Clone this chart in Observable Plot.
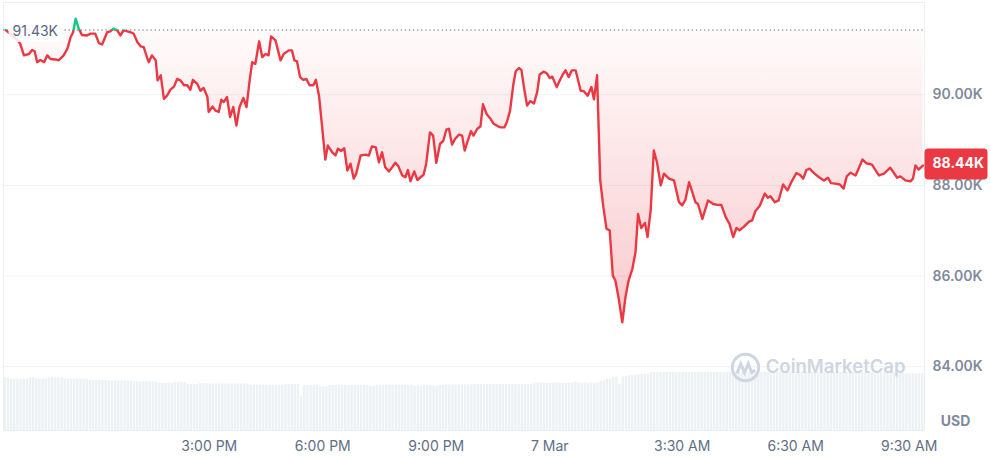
<!DOCTYPE html>
<html><head><meta charset="utf-8">
<script src="https://cdn.jsdelivr.net/npm/d3@7"></script>
<script src="https://cdn.jsdelivr.net/npm/@observablehq/plot@0.6"></script>
<style>
html,body{margin:0;padding:0;background:#fff;}
#chart{position:relative;width:991px;height:457px;font-family:Inter,"Noto Sans",sans-serif;}
#chart svg{position:absolute;left:0;top:0;}
</style></head><body><div id="chart"></div>
<script>
// ---- data ----
const openPrice = 91430;
const priceTimes = [
"6T09:37","6T09:43","6T09:49","6T09:56","6T10:00","6T10:06","6T10:14","6T10:19","6T10:23","6T10:27",
"6T10:32","6T10:38","6T10:43","6T10:48","6T10:56","6T11:01","6T11:09","6T11:15","6T11:20","6T11:24",
"6T11:28","6T11:33","6T11:38","6T11:46","6T11:52","6T11:59","6T12:05","6T12:10","6T12:18","6T12:23",
"6T12:28","6T12:34","6T12:39","6T12:44","6T12:50","6T12:55","6T13:00","6T13:06","6T13:11","6T13:16",
"6T13:22","6T13:24","6T13:29","6T13:35","6T13:38","6T13:43","6T13:48","6T13:53","6T13:58","6T14:04",
"6T14:09","6T14:14","6T14:20","6T14:25","6T14:30","6T14:34","6T14:41","6T14:46","6T14:51","6T14:57",
"6T14:59","6T15:05","6T15:10","6T15:15","6T15:19","6T15:23","6T15:28","6T15:33","6T15:38","6T15:43",
"6T15:48","6T15:54","6T15:59","6T16:04","6T16:08","6T16:13","6T16:19","6T16:24","6T16:29","6T16:34",
"6T16:38","6T16:45","6T16:53","6T16:58","6T17:06","6T17:11","6T17:15","6T17:19","6T17:24","6T17:29",
"6T17:34","6T17:39","6T17:45","6T17:49","6T17:54","6T17:59","6T18:04","6T18:08","6T18:15","6T18:20",
"6T18:24","6T18:29","6T18:34","6T18:39","6T18:44","6T18:49","6T18:53","6T19:00","6T19:08","6T19:13",
"6T19:18","6T19:24","6T19:29","6T19:34","6T19:39","6T19:45","6T19:50","6T19:55","6T20:00","6T20:06",
"6T20:11","6T20:15","6T20:19","6T20:25","6T20:30","6T20:35","6T20:40","6T20:44","6T20:50","6T20:55",
"6T21:00","6T21:06","6T21:11","6T21:16","6T21:20","6T21:25","6T21:30","6T21:36","6T21:41","6T21:45",
"6T21:50","6T21:55","6T21:59","6T22:05","6T22:10","6T22:14","6T22:20","6T22:26","6T22:31","6T22:37",
"6T22:42","6T22:48","6T22:52","6T22:57","6T23:02","6T23:06","6T23:11","6T23:15","6T23:19","6T23:24",
"6T23:29","6T23:35","6T23:40","6T23:44","6T23:50","6T23:55","7T00:00","7T00:04","7T00:11","7T00:16",
"7T00:21","7T00:25","7T00:30","7T00:35","7T00:41","7T00:49","7T00:54","7T01:00","7T01:06","7T01:10",
"7T01:15","7T01:20","7T01:25","7T01:30","7T01:35","7T01:40","7T01:44","7T01:49","7T01:55","7T02:00",
"7T02:05","7T02:11","7T02:16","7T02:20","7T02:25","7T02:31","7T02:35","7T02:40","7T02:45","7T02:50",
"7T02:56","7T03:01","7T03:09","7T03:17","7T03:25","7T03:30","7T03:35","7T03:41","7T03:46","7T03:51",
"7T03:55","7T04:02","7T04:11","7T04:19","7T04:26","7T04:32","7T04:39","7T04:45","7T04:51","7T04:56",
"7T05:01","7T05:08","7T05:16","7T05:21","7T05:26","7T05:33","7T05:41","7T05:46","7T05:50","7T05:57",
"7T06:03","7T06:10","7T06:17","7T06:23","7T06:31","7T06:37","7T06:42","7T06:47","7T06:52","7T06:59",
"7T07:07","7T07:15","7T07:21","7T07:26","7T07:33","7T07:40","7T07:46","7T07:51","7T07:57","7T08:05",
"7T08:16","7T08:22","7T08:31","7T08:42","7T08:50","7T09:00","7T09:11","7T09:16","7T09:24","7T09:32",
"7T09:36","7T09:40","7T09:45","7T09:52"];
const priceValues = [
91430,91360,91290,91200,91130,90870,90900,90990,90960,90720,
90770,90720,90870,90790,90780,90760,90870,91020,91270,91380,
91680,91460,91320,91310,91350,91350,91140,91110,91380,91400,
91460,91420,91310,91420,91400,91380,91350,91160,91070,91050,
90790,90720,90870,90760,90320,90430,89910,89980,90110,90180,
90350,90320,90210,90210,90110,90330,90240,90090,90150,89950,
89620,89740,89650,89620,89890,89840,89950,89510,89730,89320,
89730,89930,89730,90320,90720,90680,91180,90830,90900,90870,
91290,91200,90760,90900,90980,90980,90760,90740,90390,90330,
90350,90210,90210,90330,89980,89280,88570,88880,88730,88660,
88810,88760,88820,88330,88480,88150,88260,88660,88680,88660,
88860,88840,88510,88730,88400,88310,88400,88500,88420,88220,
88180,88340,88090,88310,88120,88180,88240,88480,89170,89100,
88500,88920,88980,89230,89250,88900,89030,89120,89100,88770,
88990,89200,89100,89250,89300,89790,89570,89470,89360,89310,
89280,89280,89400,89650,90210,90520,90590,90550,90170,89760,
89860,89810,90060,90450,90510,90480,90370,90400,90170,90320,
90460,90540,90390,90540,90540,90090,90080,89980,90170,89900,
90430,88110,87520,87040,87010,86010,85900,85530,84980,85530,
85900,86160,86530,87370,87060,87170,86860,87450,88770,88510,
88000,88260,88150,88110,87630,87560,87680,88070,87850,87630,
87590,87260,87670,87590,87570,87570,87300,87150,86860,87060,
87010,87090,87200,87230,87430,87550,87820,87730,87760,87630,
87670,88020,87890,88070,88270,88230,88150,88340,88370,88270,
88180,88110,88170,88050,88040,88020,87930,88200,88280,88220,
88570,88490,88460,88220,88260,88390,88170,88200,88110,88090,
88150,88440,88350,88440];
// rolling 24h volume bars (5-minute bars), billions USD
const volumeStart = "6T09:34";
const volumeStepMinutes = 5;
const volumeValues = [
52.7,52.5,51.3,51.5,51.3,51.2,51.3,51.4,52.6,52.7,
51.6,51.4,51.5,51.6,52.7,52.8,52.7,52.7,52.6,51.4,
51.3,51.3,51.2,51.3,51.3,51.4,51.2,50.1,50.0,49.9,
50.0,50.0,49.9,49.6,49.4,49.8,49.5,49.3,49.6,49.5,
49.4,48.8,48.7,48.6,48.7,48.8,48.6,48.7,48.5,47.4,
47.3,47.2,47.3,47.5,48.1,47.9,48.0,47.8,46.1,46.0,
45.9,46.0,47.0,47.1,46.8,46.5,46.4,46.6,46.5,46.5,
46.3,46.6,46.5,46.4,46.5,46.7,46.5,46.4,45.3,45.2,
45.4,45.3,45.3,45.1,45.3,45.4,45.3,45.2,45.3,46.0,
46.1,46.0,45.9,46.0,34.0,45.0,44.9,45.1,45.0,45.0,
43.7,43.6,43.8,45.0,45.1,44.9,45.0,45.0,45.2,45.0,
44.9,45.0,45.1,45.0,45.0,44.9,44.0,44.1,45.3,45.2,
45.4,45.3,45.3,45.2,45.3,45.4,45.3,45.2,45.3,45.3,
44.0,44.1,43.9,45.0,44.8,45.1,44.3,44.2,45.0,44.9,
45.7,45.6,45.8,45.7,45.7,45.6,45.8,45.7,45.9,46.0,
46.0,46.1,45.9,46.0,46.0,46.1,46.0,45.9,46.0,46.0,
46.1,46.0,46.0,45.9,46.0,46.1,46.0,46.0,47.3,47.2,
47.4,47.3,47.3,47.2,47.3,47.4,47.3,47.3,47.2,47.3,
47.4,48.6,47.3,47.2,47.3,47.3,47.4,47.3,47.5,49.3,
49.5,51.2,51.5,53.2,53.5,46.3,53.6,53.8,54.6,54.8,
55.0,55.8,56.0,56.2,56.5,
57.8,58.0,58.1,58.0,57.9,58.2,58.4,58.3,58.0,57.9,58.0,58.2,58.5,58.3,58.1,58.0,57.9,58.0,58.1,58.2,
58.3,58.2,58.0,58.1,58.3,58.4,58.2,58.0,57.9,58.1,58.2,58.3,58.2,58.0,58.1,58.2,58.3,58.1,58.0,57.9,
58.0,58.1,58.2,58.3,58.2,58.1,58.0,58.2,58.3,58.2,58.1,58.0,57.9,58.0,58.1,58.2,58.1,58.0,57.9,58.0,
58.1,58.2,58.1,58.0,57.9,58.0,58.1,57.9,57.8,57.9,58.0,57.9,57.8,57.7,57.8,57.6,57.5,57.4,57.3,57.2,
56.9,56.8,56.7,56.7,56.6,56.7,56.8];
const yTicks = [84000, 86000, 88000, 90000];
const xTickTimes = ["6T15:00","6T18:00","6T21:00","7T00:00","7T03:30","7T06:30","7T09:30"];
const xTickLabels = ["3:00 PM","6:00 PM","9:00 PM","7 Mar","3:30 AM","6:30 AM","9:30 AM"];
const xDomainText = ["6T09:33:36","7T09:54:18"];
const yDomain = [82591, 92037];
const currency = "USD";
const brand = "CoinMarketCap";

// ---- build ----
const parse = s => new Date("2025-03-0" + s);
const prices = priceTimes.map((t, i) => ({date: parse(t), price: priceValues[i]}));
const v0 = parse(volumeStart);
const volumes = volumeValues.map((v, i) => ({
  start: new Date(+v0 + i * volumeStepMinutes * 60000),
  end: new Date(+v0 + (i + 1) * volumeStepMinutes * 60000),
  vol: v
}));
const last = prices[prices.length - 1];
const fmtK = d => (d / 1000).toFixed(2) + "K";
const W = 991, H = 457, M = {marginLeft: 3, marginRight: 67, marginTop: 2, marginBottom: 27};
const xDomain = xDomainText.map(parse);
const RED = "#ea3943", GREEN = "#16c784", GREY = "#808a9d";

const roundedRect = (w, h, r) => ({
  draw(ctx) {
    const x0 = -w / 2, y0 = -h / 2, x1 = w / 2, y1 = h / 2;
    ctx.moveTo(x0 + r, y0);
    ctx.lineTo(x1 - r, y0); ctx.arcTo(x1, y0, x1, y0 + r, r);
    ctx.lineTo(x1, y1 - r); ctx.arcTo(x1, y1, x1 - r, y1, r);
    ctx.lineTo(x0 + r, y1); ctx.arcTo(x0, y1, x0, y1 - r, r);
    ctx.lineTo(x0, y0 + r); ctx.arcTo(x0, y0, x0 + r, y0, r);
    ctx.closePath();
  }
});
const cmcLogo = {
  draw(ctx) {
    const r = 13.2;
    ctx.moveTo(r, 0); ctx.arc(0, 0, r, 0, 2 * Math.PI);
    ctx.moveTo(-8.5, 6); ctx.lineTo(-4.8, -3.8); ctx.lineTo(-1, 5.2);
    ctx.lineTo(2.8, -3.8); ctx.lineTo(6.2, 5); ctx.lineTo(9.5, 2.5);
  }
};

const volPlot = Plot.plot({
  width: W, height: H, ...M,
  style: {background: "transparent"},
  x: {type: "time", domain: xDomain, axis: null},
  y: {domain: [0, 428], axis: null},
  marks: [
    Plot.frame({stroke: "#eceff2"}),
    Plot.rectY(volumes, {x1: "start", x2: "end", y: "vol", fill: "#eef1f4", insetLeft: 0.3, insetRight: 0.4})
  ]
});

const pricePlot = Plot.plot({
  width: W, height: H, ...M,
  style: {background: "transparent", fontFamily: "Inter, 'Noto Sans', sans-serif"},
  x: {type: "time", domain: xDomain, axis: null},
  y: {domain: yDomain, axis: null},
  marks: [
    Plot.ruleY(yTicks, {stroke: "#eff2f5", strokeWidth: 1}),
    Plot.areaY(prices, {x: "date", y1: () => openPrice, y2: d => Math.min(d.price, openPrice), fill: "url(#cmcRedFill)"}),
    Plot.areaY(prices, {x: "date", y1: () => openPrice, y2: d => Math.max(d.price, openPrice), fill: GREEN, fillOpacity: 0.12}),
    Plot.ruleY([openPrice], {stroke: "#8c9aa8", strokeWidth: 1.3, strokeDasharray: "1.2 2.9"}),
    Plot.line(prices, {x: "date", y: "price", stroke: "url(#cmcLineStroke)", strokeWidth: 2.4, strokeLinejoin: "round", strokeLinecap: "round"}),
    // opening price label
    Plot.dot([openPrice], {y: d => d, frameAnchor: "left", dx: 32, dy: 2, symbol: roundedRect(54, 20, 3), fill: "white", fillOpacity: 0.85, stroke: "none"}),
    Plot.text([openPrice], {y: d => d, frameAnchor: "left", dx: 9, dy: 2, textAnchor: "start", text: d => fmtK(d), fontSize: 14, fill: "#58667e"}),
    // right axis labels
    Plot.text(yTicks, {y: d => d, frameAnchor: "right", dx: 8, textAnchor: "start", text: d => fmtK(d), fontSize: 14, fontWeight: 600, fill: GREY}),
    // current price badge
    Plot.dot([last], {y: "price", frameAnchor: "right", dx: 31.5, dy: -1.5, symbol: roundedRect(63, 31, 4), fill: RED, stroke: "none"}),
    Plot.text([last], {y: "price", frameAnchor: "right", dx: 8, dy: -1.5, textAnchor: "start", text: d => fmtK(d.price), fontSize: 14, fontWeight: 700, fill: "white"}),
    // x axis labels
    Plot.text(xTickTimes.map(parse), {x: d => d, frameAnchor: "bottom", dy: 20, text: (d, i) => xTickLabels[i], fontSize: 14, fill: "#616e85"}),
    // currency
    Plot.text([currency], {frameAnchor: "bottom-right", dx: 31, dy: -5, textAnchor: "middle", text: d => d, fontSize: 14, fontWeight: 700, fill: GREY}),
    // watermark
    Plot.dot([brand], {frameAnchor: "bottom-right", dx: -179, dy: -63, symbol: cmcLogo, fill: "none", stroke: "#cfd6e1", strokeWidth: 3}),
    Plot.text([brand], {frameAnchor: "bottom-right", dx: -19, dy: -58, textAnchor: "end", text: d => d, fontSize: 18.5, fontWeight: 600, fill: "#cfd6e1"})
  ]
});

// gradients
const yb = M.marginTop + (yDomain[1] - openPrice) / (yDomain[1] - yDomain[0]) * (H - M.marginTop - M.marginBottom);
const defs = d3.create("svg:defs");
const lg = defs.append("linearGradient").attr("id", "cmcLineStroke")
  .attr("gradientUnits", "userSpaceOnUse").attr("x1", 0).attr("y1", 0).attr("x2", 0).attr("y2", H);
lg.append("stop").attr("offset", yb / H).attr("stop-color", GREEN);
lg.append("stop").attr("offset", yb / H).attr("stop-color", RED);
const fg = defs.append("linearGradient").attr("id", "cmcRedFill")
  .attr("x1", 0).attr("y1", 0).attr("x2", 0).attr("y2", 1);
fg.append("stop").attr("offset", 0).attr("stop-color", RED).attr("stop-opacity", 0.02);
fg.append("stop").attr("offset", 1).attr("stop-color", RED).attr("stop-opacity", 0.27);
pricePlot.insertBefore(defs.node(), pricePlot.firstChild);

const chart = document.getElementById("chart");
chart.appendChild(volPlot);
chart.appendChild(pricePlot);
</script>
</body></html>
